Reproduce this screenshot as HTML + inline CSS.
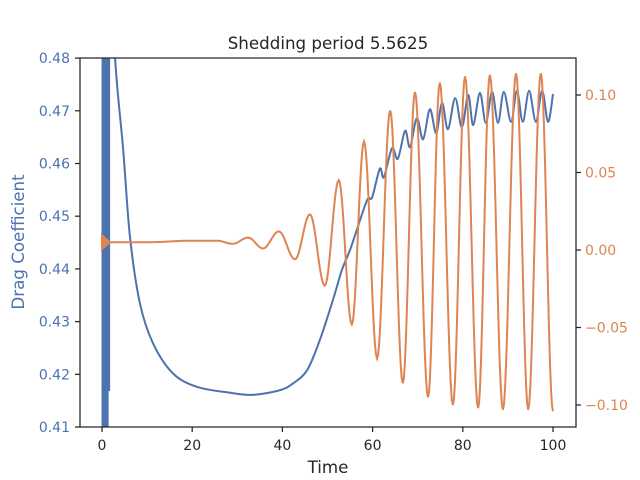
<!DOCTYPE html>
<html><head><meta charset="utf-8"><style>
html,body{margin:0;padding:0;background:#fff}
svg{display:block;font-family:"DejaVu Sans","Liberation Sans",sans-serif}
</style></head><body>
<svg id="chart" width="640" height="480" viewBox="0 0 640 480" xmlns="http://www.w3.org/2000/svg">
<rect width="640" height="480" fill="#fff"/>
<defs><clipPath id="plotclip"><rect x="80" y="58" width="496" height="369"/></clipPath></defs>
<g id="marks" clip-path="url(#plotclip)"></g>
<g id="axes"></g>
<text x="328" y="49" text-anchor="middle" font-size="16.7" fill="#262626">Shedding period 5.5625</text>
<text x="328" y="473" text-anchor="middle" font-size="16.7" fill="#262626">Time</text>
<text x="24" y="242" text-anchor="middle" font-size="16.7" fill="#4c72b0" transform="rotate(-90 24 242)">Drag Coefficient</text>
</svg>
<script>
const xTicks=[0,20,40,60,80,100];
const leftTicks=[0.41,0.42,0.43,0.44,0.45,0.46,0.47,0.48];
const rightTicks=[-0.10,-0.05,0.00,0.05,0.10];
const spikeT=[-0.1,1.8];
const dragT=[2.2,2.9,4.7,6.2,8.4,11.3,15.7,21.1,28.4,33.5,39.5,42.4,45.5,48.3,51.2,53.2,55.0,56.5,58.8,59.9,61.6,62.5,64.3,65.6,67.2,68.3,69.8,71.2,72.7,74.1,75.4,76.7,78.3,79.8,81.2,82.3,83.8,85.1,86.5,87.8,89.1,90.7,92.0,93.3,94.7,96.2,97.6,98.9,100];
const dragV=[0.50,0.480,0.4626,0.4461,0.4335,0.4259,0.4202,0.4176,0.4165,0.4161,0.4170,0.4183,0.4208,0.4265,0.4341,0.4398,0.4436,0.4474,0.4531,0.4536,0.4590,0.4574,0.4629,0.4609,0.4662,0.4631,0.4686,0.4646,0.4703,0.4658,0.4715,0.4665,0.4724,0.4669,0.4730,0.4673,0.4734,0.4677,0.4736,0.4677,0.4736,0.4679,0.4738,0.4679,0.4738,0.4679,0.4738,0.4679,0.4732];
const liftT=[0,2,10,20,25.5,29.0,32.4,35.7,39.2,42.8,46.1,49.4,52.5,55.4,58.1,61.0,63.9,66.7,69.4,72.3,74.9,77.8,80.5,83.4,86.0,88.9,91.8,94.5,97.3,100];
const liftV=[0.005,0.005,0.005,0.006,0.006,0.004,0.008,0.001,0.012,-0.006,0.023,-0.023,0.045,-0.048,0.070,-0.070,0.090,-0.086,0.102,-0.095,0.108,-0.100,0.112,-0.102,0.113,-0.103,0.114,-0.103,0.114,-0.104];

const NS="http://www.w3.org/2000/svg";
const X=t=>102+(t)*4.51;
const YL=v=>427-(v-0.41)*5270;
const YR=v=>250-v*1550;
const marks=document.getElementById('marks'), axes=document.getElementById('axes');
function mk(tag,attrs,parent){const e=document.createElementNS(NS,tag);for(const k in attrs)e.setAttribute(k,attrs[k]);parent.appendChild(e);return e;}

const band=mk('rect',{x:X(spikeT[0]),y:58,width:X(spikeT[1])-X(spikeT[0]),height:333,fill:'#4c72b0'},marks);


const band2=mk('rect',{x:X(spikeT[0]),y:390,width:X(spikeT[1])-X(spikeT[0])-1.5,height:37,fill:'#4c72b0'},marks);



let pts=dragT.map((t,i)=>[X(t),YL(dragV[i])]);
let d='M'+pts[0][0]+','+pts[0][1];
for(let i=0;i<pts.length-1;i++){
  const p0=pts[Math.max(0,i-1)],p1=pts[i],p2=pts[i+1],p3=pts[Math.min(pts.length-1,i+2)];
  const c1=[p1[0]+(p2[0]-p0[0])/6,p1[1]+(p2[1]-p0[1])/6];
  const c2=[p2[0]-(p3[0]-p1[0])/6,p2[1]-(p3[1]-p1[1])/6];
  d+=` C${c1[0]},${c1[1]} ${c2[0]},${c2[1]} ${p2[0]},${p2[1]}`;
}
const dl=mk('path',{d:d,fill:'none',stroke:'#4c72b0','stroke-width':2},marks);



let ld='';
for(let i=0;i<liftT.length-1;i++){
  for(let s=0;s<=12;s++){
    const f=s/12,w=(1-Math.cos(Math.PI*f))/2;
    const t=liftT[i]+(liftT[i+1]-liftT[i])*f, v=liftV[i]+(liftV[i+1]-liftV[i])*w;
    ld+=(ld?'L':'M')+X(t).toFixed(2)+','+YR(v).toFixed(2);
  }
}
const ll=mk('path',{d:ld,fill:'none',stroke:'#dd8452','stroke-width':2},marks);


const lt=mk('path',{d:`M${X(0)-1},${YR(0.011)} L${X(0)-1},${YR(-0.001)} L${X(2)},${YR(0.005)} Z`,fill:'#dd8452'},marks);



const sp=mk('rect',{x:80,y:58,width:496,height:369,fill:'none',stroke:'#262626','stroke-width':1.25},axes);


xTicks.forEach(t=>{
  mk('line',{x1:X(t),x2:X(t),y1:427,y2:432,stroke:'#262626','stroke-width':1.25},axes);
  const tx=mk('text',{x:X(t),y:450,'text-anchor':'middle','font-size':14,fill:'#262626'},axes);
  tx.textContent=t;
  
  
});
leftTicks.forEach(v=>{
  mk('line',{x1:75,x2:80,y1:YL(v),y2:YL(v),stroke:'#262626','stroke-width':1.25},axes);
  const tx=mk('text',{x:70,y:YL(v)+5,'text-anchor':'end','font-size':14,fill:'#4c72b0'},axes);
  tx.textContent=v.toFixed(2);
  
  
});
rightTicks.forEach(v=>{
  mk('line',{x1:576,x2:581,y1:YR(v),y2:YR(v),stroke:'#262626','stroke-width':1.25},axes);
  const tx=mk('text',{x:585,y:YR(v)+5,'text-anchor':'start','font-size':14,fill:'#dd8452'},axes);
  tx.textContent=(v<0?'\u2212':'')+Math.abs(v).toFixed(2);
  
  
});
</script>
</body></html>
